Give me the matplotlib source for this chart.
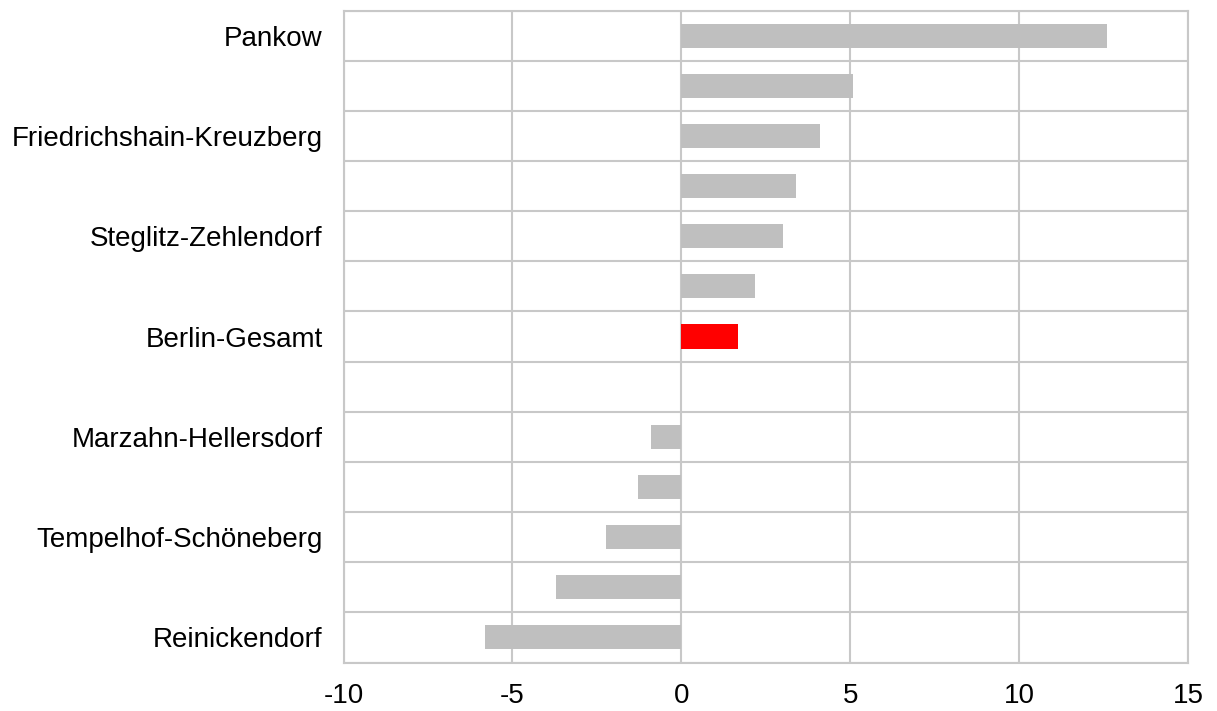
import matplotlib
matplotlib.use("Agg")
import matplotlib.pyplot as plt
import numpy as np

plt.rcParams['font.family'] = ['Liberation Sans', 'DejaVu Sans']

# Bezirke von oben nach unten (nur jede zweite Beschriftung sichtbar wie im Original)
bezirke = ["Pankow", "Mitte", "Friedrichshain-Kreuzberg", "Lichtenberg",
           "Steglitz-Zehlendorf", "Treptow-Köpenick", "Berlin-Gesamt",
           "Charlottenburg-Wilmersdorf", "Marzahn-Hellersdorf", "Spandau",
           "Tempelhof-Schöneberg", "Neukölln", "Reinickendorf"]
werte = [12.6, 5.08, 4.11, 3.4, 3.02, 2.19, 1.69, 0.0, -0.89, -1.27, -2.22, -3.7, -5.8]
xticks = [-10, -5, 0, 5, 10, 15]

farben = ["#ff0000" if b == "Berlin-Gesamt" else "#bfbfbf" for b in bezirke]
grid = "#c8c8c8"

fig = plt.figure(figsize=(12.17, 7.11), dpi=100)
ax = fig.add_axes([0.2823, 0.0682, 0.694, 0.917])

y = np.arange(len(bezirke))
ax.barh(y, werte, height=0.48, color=farben, zorder=3)

ax.set_xlim(-10, 15)
ax.set_ylim(len(bezirke) - 0.5, -0.5)
ax.set_xticks(xticks)
ax.set_xticklabels([str(t) for t in xticks], fontsize=20)
ax.set_yticks(y[::2])
ax.set_yticklabels(bezirke[::2], fontsize=20)
ax.set_yticks(np.arange(len(bezirke) + 1) - 0.5, minor=True)
ax.tick_params(length=0, which="both")
ax.tick_params(axis="x", pad=15)
ax.tick_params(axis="y", pad=15)

ax.grid(True, axis="x", color=grid, linewidth=1.5, zorder=0)
ax.grid(True, axis="y", which="minor", color=grid, linewidth=1.5, zorder=0)
for s in ax.spines.values():
    s.set_color(grid)
    s.set_linewidth(1.5)

fig.savefig("out.png", dpi=100, facecolor="white")
